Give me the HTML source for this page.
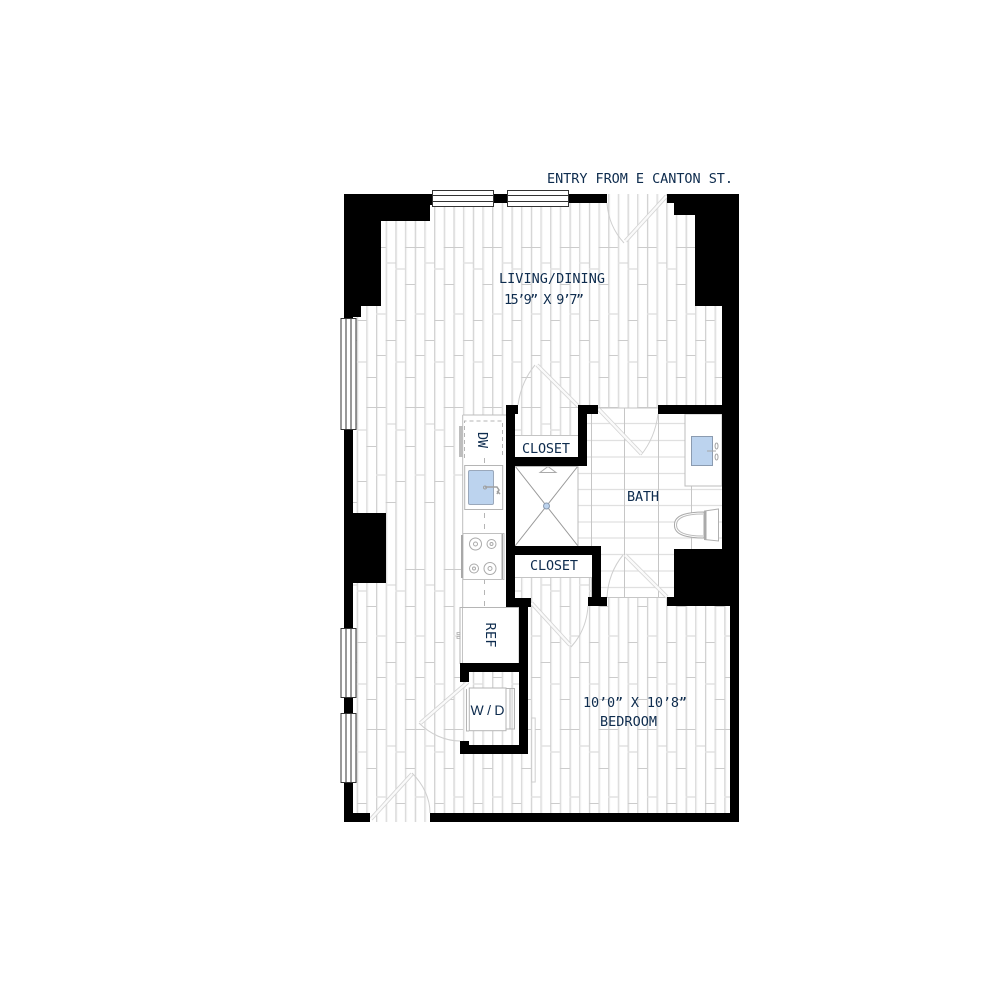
<!DOCTYPE html>
<html><head><meta charset="utf-8"><title>Floor plan</title>
<style>
html,body{margin:0;padding:0;background:#fff}
svg{display:block}
text{font-family:"DejaVu Sans Mono","Liberation Mono",monospace;font-size:13.5px;fill:#0e2c4e;text-anchor:middle}
</style></head><body>
<svg width="1000" height="1000" viewBox="0 0 1000 1000" xmlns="http://www.w3.org/2000/svg">
<defs>
<pattern id="pl" patternUnits="userSpaceOnUse" x="356.7" y="0" width="38.696" height="322">
 <g stroke="#d0d0d0" stroke-width="1">
  <line x1=".5" y1="0" x2=".5" y2="322"/><line x1="10.17" y1="0" x2="10.17" y2="322"/>
  <line x1="19.85" y1="0" x2="19.85" y2="322"/><line x1="29.52" y1="0" x2="29.52" y2="322"/>
 </g>
 <g stroke="#f1f1f1" stroke-width="1">
  <line x1="1.5" y1="0" x2="1.5" y2="322"/><line x1="11.17" y1="0" x2="11.17" y2="322"/>
  <line x1="20.85" y1="0" x2="20.85" y2="322"/><line x1="30.52" y1="0" x2="30.52" y2="322"/>
 </g>
 <path d="M0 320.500h9.67M0 159.500h9.67" stroke="#cccccc" fill="none"/>
 <path d="M0 269h9.67M0 40h9.67M0 108h9.67" stroke="#e2e2e2" stroke-width="1.6" fill="none"/>
 <path d="M9.67 247.500h9.67M9.67 284.500h9.67M9.67 55.500h9.67M9.67 85.500h9.67M9.67 124.500h9.67" stroke="#cccccc" fill="none"/>
 <path d="M19.35 247.500h9.67M19.35 33.500h9.67M19.35 85.500h9.67" stroke="#cccccc" fill="none"/>
 <path d="M19.35 314h9.67M19.35 153h9.67" stroke="#e2e2e2" stroke-width="1.6" fill="none"/>
 <path d="M29.02 18.500h9.67M29.02 180.500h9.67" stroke="#cccccc" fill="none"/>
 <path d="M29.02 263h9.67M29.02 102h9.67" stroke="#e2e2e2" stroke-width="1.6" fill="none"/>
</pattern>
</defs>

<!-- floor -->
<rect x="345" y="194" width="390" height="628" fill="#fff"/>
<rect x="345" y="194" width="385" height="628" fill="url(#pl)"/>

<!-- bath -->
<path d="M587 408H722V597H601V546H578V466H587Z" fill="#fff"/>
<g stroke="#e0e0e0" stroke-width="1.3">
 <path d="M587 423.500H722M587 440.500H722M587 457H722M578 473.500H722M578 489.500H722M578 505.500H722M578 522H722M578 538H722M601 554.500H722M601 571H722M601 587.500H722" fill="none"/>
</g>
<g stroke="#c6c6c6" stroke-width="1" fill="none">
 <path d="M591.500 414V546M591.500 555V597M624.500 408V597M658.500 414V597M691.500 486V597M598 408H658M607 597.500H667"/>
</g>

<!-- closets -->
<rect x="515" y="435" width="63" height="22" fill="#fff"/>
<path d="M515 435.500H578" stroke="#c4c4c4"/>
<rect x="515" y="555" width="77" height="22" fill="#fff"/>
<path d="M515 577.500H592" stroke="#c4c4c4"/>

<!-- shower -->
<rect x="515" y="466" width="63" height="80" fill="#fff"/>
<g stroke="#999" stroke-width="1" fill="none">
 <path d="M515 466L578 546M578 466L515 546"/>
 <path d="M540 472.500L548 466.500L556 472.500Z" stroke="#aaa"/>
 <path d="M515 466.500H578V546" stroke="#bbb"/>
</g>
<circle cx="546.500" cy="506" r="3" fill="#bcd3ee" stroke="#8b9bb0"/>

<!-- kitchen counter -->
<rect x="463" y="415" width="43" height="192" fill="#fff"/>
<path d="M462.700 415H506M462.700 415V607" stroke="#bdbdbd" fill="none"/>
<rect x="459" y="426" width="3.500" height="31" fill="#bdbdbd"/>
<path d="M464.500 458V421H502.500V458" stroke="#b5b5b5" stroke-dasharray="4 3" fill="none"/>
<path d="M484.500 458V607" stroke="#b5b5b5" stroke-dasharray="5 6" fill="none"/>
<rect x="464.700" y="465.500" width="38" height="44" fill="#fff" stroke="#b5b5b5"/>
<rect x="468.500" y="470.500" width="25" height="34" rx="1.500" fill="#bcd3ee" stroke="#9aa8bb"/>
<path d="M485 487H497L499 490L497 494M500 494L497 491" stroke="#a0a0a0" fill="none" stroke-width="1.500"/>
<circle cx="485" cy="487.500" r="1.500" fill="none" stroke="#a0a0a0"/>
<!-- stove -->
<rect x="463" y="533.500" width="41" height="46" fill="#fff" stroke="#c0c0c0"/>
<rect x="461" y="535" width="2" height="43" fill="#a8a8a8"/>
<rect x="501.500" y="534" width="1.500" height="45" fill="#a8a8a8"/>
<g fill="none" stroke="#aaa">
 <circle cx="475.500" cy="544" r="6"/><circle cx="475.500" cy="544" r="2"/>
 <circle cx="491.500" cy="544" r="4.500"/><circle cx="491.500" cy="544" r="1.500"/>
 <circle cx="474" cy="568.500" r="4.500"/><circle cx="474" cy="568.500" r="1.500"/>
 <circle cx="490" cy="568.500" r="6"/><circle cx="490" cy="568.500" r="2"/>
</g>
<!-- ref -->
<rect x="460" y="607.500" width="59" height="56" fill="#fff" stroke="#b5b5b5"/>
<path d="M462.500 608V663" stroke="#c4c4c4"/>
<path d="M457 632.500h3v2h-3zM457 636.500h3v2h-3z" fill="none" stroke="#aaa" stroke-width=".8"/>

<!-- W/D -->
<rect x="469.300" y="688" width="36.700" height="42.700" fill="#fff" stroke="#b5b5b5"/>
<path d="M466.500 689V731H469M506 688.500H514.500V729H506M510 689V729" fill="none" stroke="#b5b5b5"/>
<rect x="531.700" y="718" width="3.500" height="64" fill="#fff" stroke="#cfcfcf"/>

<!-- vanity -->
<rect x="685" y="414" width="37" height="72" fill="#fff" stroke="#bdbdbd"/>
<rect x="691.500" y="436.500" width="21" height="29" fill="#bcd3ee" stroke="#8b9bb0"/>
<path d="M707 451H716M716.500 443a1.500 3 0 1 0 .1 0M716.500 454a1.500 3 0 1 0 .1 0" fill="none" stroke="#a5a5a5"/>
<!-- toilet -->
<path d="M704.500 511L718.500 509L718.500 541L704.500 539.500Z" fill="#fff" stroke="#b0b0b0"/>
<path d="M704 512C690 512 674 514 674.500 525C674 536 690 538 704 538Z" fill="#fff" stroke="#aaa"/>
<path d="M703 514C690 514 676.500 516 676.500 525C676.500 534 690 536 703 536" fill="none" stroke="#bbb"/>
<path d="M705.500 511V539.500" stroke="#aaa" stroke-width="2"/>

<!-- doors -->
<g fill="none" stroke="#cfcfcf">
 <path d="M607 203C608 218 614 232 624 243"/>
 <path d="M518 405C520 390 526 376 535 365"/>
 <path d="M658 414C656 430 650 444 641 455"/>
 <path d="M607 597C608 580 614 566 623 555"/>
 <path d="M588 606C587 622 581 636 571 647"/>
 <path d="M419 723C430 734 445 741 460 741"/>
 <path d="M412 773C423 784 430 798 430 813"/>
</g>
<g fill="none" stroke="#d4d4d4" stroke-width="4" stroke-linecap="butt">
 <path d="M666.500 196L625.500 241"/><path d="M578 406L537 365"/><path d="M598.500 409L641.500 454"/>
 <path d="M667 597L625 555"/><path d="M531.500 603L570 645"/><path d="M468 682L420.500 723"/><path d="M371 819L412 774"/>
</g>
<g fill="none" stroke="#fafafa" stroke-width="2.400">
 <path d="M666.500 196L625.500 241"/><path d="M578 406L537 365"/><path d="M598.500 409L641.500 454"/>
 <path d="M667 597L625 555"/><path d="M531.500 603L570 645"/><path d="M468 682L420.500 723"/><path d="M371 819L412 774"/>
</g>

<!-- walls -->
<g fill="#000">
 <path d="M344 194H432V205H430V221H381V306H361V317H353V822H344Z"/>
 <rect x="494" y="194" width="14" height="9"/>
 <rect x="568" y="194" width="39" height="9"/>
 <path d="M667 194H739V822H430V813H730V606H667V597H674V549H722V306H695V215H674V203H667Z"/>
 <rect x="344" y="813" width="26" height="9"/>
 <rect x="344" y="513" width="42" height="70"/>
 <rect x="658" y="405" width="64" height="9"/>
 <path d="M506 405H518V414H515V457H578V405H598V414H587V466H515V546H601V597H607V606H588V597H592V555H515V598H531V607H528V754H460V741H469V745H519V672H469V682H460V663H519V607H506Z"/>
</g>

<!-- windows -->
<g fill="#fff" stroke="#333" stroke-width="1">
 <rect x="432.500" y="190.500" width="61" height="16"/><path d="M432.500 195.500H493.500M432.500 201.500H493.500"/>
 <rect x="507.500" y="190.500" width="61" height="16"/><path d="M507.500 195.500H568.500M507.500 201.500H568.500"/>
 <rect x="341" y="318.500" width="15" height="111"/><path d="M346 318.500V429.500M351 318.500V429.500"/>
 <rect x="341" y="628.500" width="15" height="69"/><path d="M346 628.500V697.500M351 628.500V697.500"/>
 <rect x="341" y="713.500" width="15" height="69"/><path d="M346 713.500V782.500M351 713.500V782.500"/>
</g>

<!-- labels -->
<text x="640" y="183" textLength="186" lengthAdjust="spacing">ENTRY FROM E CANTON ST.</text>
<text x="552" y="283" textLength="106" lengthAdjust="spacing">LIVING/DINING</text>
<text x="544" y="304" textLength="80" lengthAdjust="spacing">15’9” X 9’7”</text>
<text x="546" y="453" textLength="48" lengthAdjust="spacing">CLOSET</text>
<text x="643" y="501" textLength="32" lengthAdjust="spacing">BATH</text>
<text x="554" y="570" textLength="48" lengthAdjust="spacing">CLOSET</text>
<text x="635" y="707" textLength="104" lengthAdjust="spacing">10’0” X 10’8”</text>
<text x="628.500" y="726" textLength="57" lengthAdjust="spacing">BEDROOM</text>
<text x="487.500" y="715" textLength="34" lengthAdjust="spacing" style="font-family:'Liberation Sans',sans-serif;font-size:14px">W/D</text>
<text transform="translate(478,440) rotate(90)" x="0" y="0" textLength="16" lengthAdjust="spacing">DW</text>
<text transform="translate(486,635) rotate(90)" x="0" y="0" textLength="25" lengthAdjust="spacing">REF</text>
</svg>
</body></html>
